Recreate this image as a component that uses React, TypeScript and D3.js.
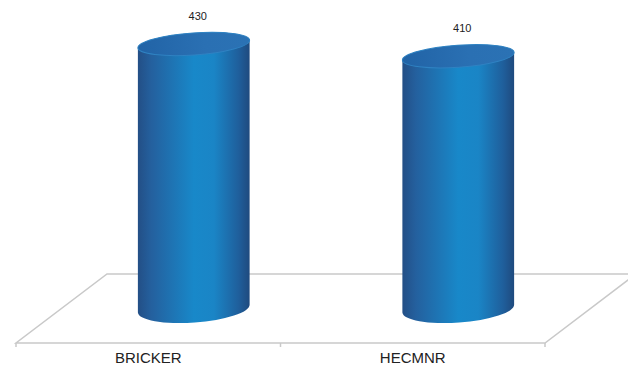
import React from "react";
import * as d3 from "d3";

const categories = ["BRICKER", "HECMNR"];
const values = [430, 410];

const W = 628;
const H = 366;

// floor parallelogram: front edge and depth offset
const frontLeft = 16;
const frontRight = 545;
const frontY = 343;
const depthX = 91;
const depthY = 69;

const RX = 56;
const RY_TOP = 11;
const RY_BOTTOM = 14;
const TILT = 4; // degrees, right side of the ellipses sits higher

export default function App() {
  const x = d3.scaleBand<string>().domain(categories).range([frontLeft, frontRight]).padding(0);
  const baseY = frontY - depthY / 2;
  const y = d3.scaleLinear().domain([0, 430]).range([baseY, 44]);

  const t = (TILT * Math.PI) / 180;
  const ex = RX * Math.cos(t);
  const ey = RX * Math.sin(t);

  const floor = [
    [frontLeft, frontY],
    [frontRight, frontY],
    [frontRight + depthX, frontY - depthY],
    [frontLeft + depthX, frontY - depthY],
  ];

  return (
    <svg
      width={W}
      height={H}
      style={{ position: "absolute", left: 0, top: 0, background: "#fff" }}
      fontFamily="'Liberation Sans', Arial, sans-serif"
    >
      <defs>
        <linearGradient id="body" x1="0" y1="0" x2="1" y2="0">
          <stop offset="0" stopColor="#234f86" />
          <stop offset="0.12" stopColor="#24609e" />
          <stop offset="0.5" stopColor="#1888c9" />
          <stop offset="0.68" stopColor="#1a85c6" />
          <stop offset="0.9" stopColor="#1f5f9c" />
          <stop offset="1" stopColor="#1f4a7e" />
        </linearGradient>
        <linearGradient id="top" x1="0" y1="0" x2="1" y2="0">
          <stop offset="0" stopColor="#2163a6" />
          <stop offset="0.6" stopColor="#2a70b3" />
          <stop offset="1" stopColor="#2b72b4" />
        </linearGradient>
      </defs>

      {/* floor */}
      <polygon
        points={floor.map((p) => p.join(",")).join(" ")}
        fill="none"
        stroke="#c9c9c9"
        strokeWidth={1.5}
      />
      {[frontLeft, ...categories.map((c) => (x(c) as number) + x.bandwidth())].map((tx, i) => (
        <line key={i} x1={tx} x2={tx} y1={frontY} y2={frontY + 4} stroke="#c9c9c9" strokeWidth={1.5} />
      ))}

      {categories.map((c, i) => {
        const cx = (x(c) as number) + x.bandwidth() / 2 + depthX / 2;
        const top = y(values[i]);
        const bottom = y(0);
        const body =
          `M${cx - ex},${top + ey} ` +
          `A${RX},${RY_TOP} ${-TILT} 0 1 ${cx + ex},${top - ey} ` +
          `L${cx + ex},${bottom - ey} ` +
          `A${RX},${RY_BOTTOM} ${-TILT} 0 1 ${cx - ex},${bottom + ey} Z`;
        return (
          <g key={c}>
            <path d={body} fill="url(#body)" />
            <ellipse
              cx={cx}
              cy={top}
              rx={RX}
              ry={RY_TOP}
              transform={`rotate(${-TILT} ${cx} ${top})`}
              fill="url(#top)"
              stroke="#2f82c2"
              strokeWidth={1}
            />
            <text x={cx + 4} y={top - 24} textAnchor="middle" fontSize={11} fill="#222">
              {values[i]}
            </text>
            <text
              x={(x(c) as number) + x.bandwidth() / 2}
              y={363}
              textAnchor="middle"
              fontSize={15}
              fill="#222"
            >
              {c}
            </text>
          </g>
        );
      })}
    </svg>
  );
}
